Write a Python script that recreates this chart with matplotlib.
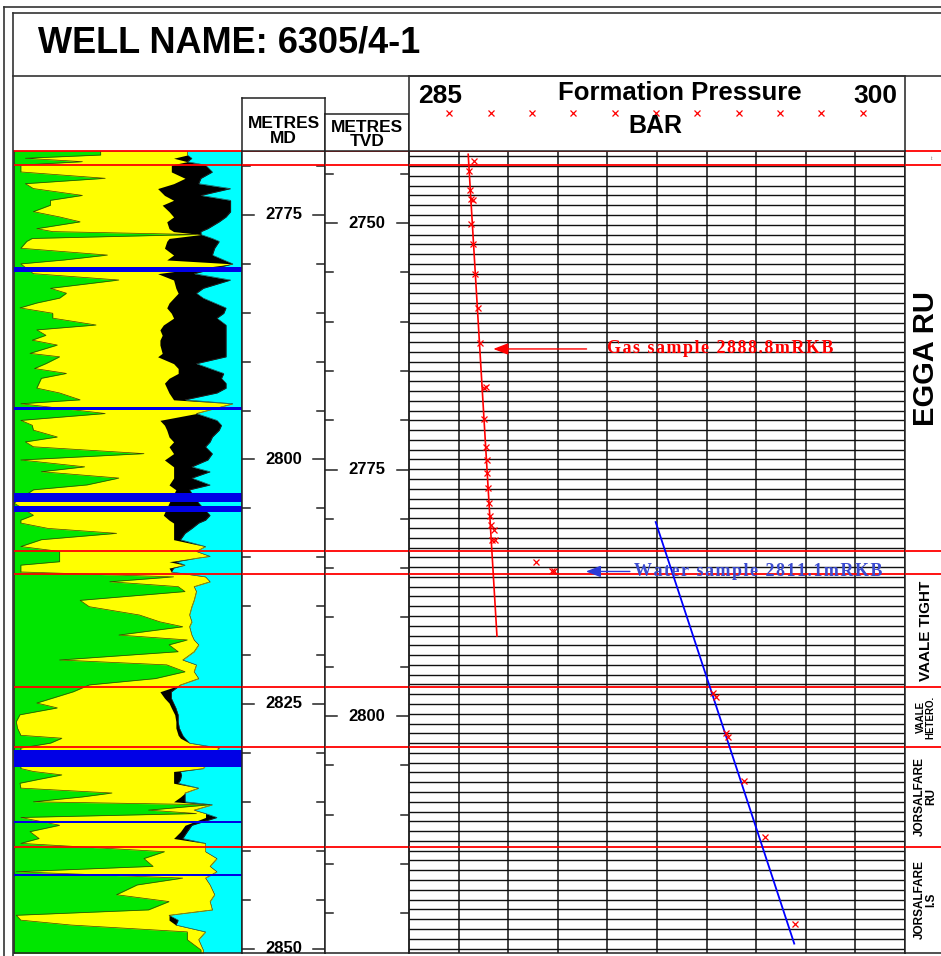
import matplotlib
matplotlib.use("Agg")
import matplotlib.pyplot as plt
import numpy as np
from matplotlib.lines import Line2D

plt.rcParams['font.family'] = ['Liberation Sans', 'DejaVu Sans']
SERIF = ['Liberation Serif', 'DejaVu Serif']

# ---- data read off the log ----
# lithology log: cumulative percentages (shale, +sand, +gas) at measured depth
log_md = [2768.46, 2768.87, 2769.2, 2769.55, 2769.9, 2770.6, 2771.25, 2771.8, 2772.3, 2773.0,
          2773.5, 2774.0, 2774.66, 2775.2, 2775.7, 2776.4, 2776.7, 2777.0, 2777.4, 2777.7,
          2778.4, 2779.1, 2779.6, 2780.0, 2781.0, 2781.65, 2782.5, 2783.0, 2783.5, 2784.0,
          2784.5, 2785.05, 2785.55, 2786.25, 2786.75, 2787.3, 2787.8, 2788.3, 2789.15, 2789.5,
          2790.2, 2790.7, 2791.2, 2791.7, 2792.2, 2792.7, 2793.2, 2793.9, 2794.3, 2795.3,
          2796.0, 2796.5, 2797.0, 2797.7, 2798.2, 2798.7, 2799.4, 2800.05, 2800.75, 2801.25,
          2801.9, 2802.6, 2803.1, 2804.45, 2805.7, 2806.2, 2806.5, 2807.05, 2807.55, 2808.2,
          2808.9, 2809.4, 2809.9, 2810.1, 2810.45, 2810.8, 2811.1, 2811.5, 2812.0, 2812.5,
          2813.0, 2813.5, 2814.4, 2815.05, 2815.9, 2816.6, 2817.1, 2817.95, 2818.45, 2818.95,
          2819.65, 2820.5, 2821.0, 2821.7, 2822.4, 2823.05, 2823.75, 2824.4, 2824.9, 2825.4,
          2826.1, 2826.8, 2827.45, 2828.2, 2828.5, 2829.0, 2829.5, 2831.6, 2831.9, 2832.25,
          2832.75, 2833.1, 2833.6, 2834.1, 2834.5, 2835.0, 2835.3, 2835.85, 2836.2, 2836.6,
          2837.4, 2838.05, 2838.75, 2839.25, 2840.1, 2840.8, 2841.6, 2842.15, 2842.8, 2843.5,
          2844.5, 2845.2, 2846.05, 2846.6, 2847.1, 2847.6, 2848.3, 2849.1, 2850.15, 2850.46]
shale = [38, 38, 5, 30, 3, 3, 40, 5, 8.5, 30,
         16, 16, 8.5, 20, 29, 10, 17, 80, 8, 5.6,
         3, 41, 22, 3, 8.5, 46, 16, 23, 20, 10,
         2.6, 17, 17, 36, 10, 14, 8, 19, 7, 20,
         14, 9, 23, 12, 11, 10, 20, 29, 3, 40,
         3, 8, 8.5, 19, 5, 8.5, 57, 3, 31, 12,
         46, 32, 8.5, 0, 8.5, 3, 3, 15, 45, 12,
         3, 20, 20, 20, 20, 3, 3, 3, 70, 42,
         72, 75, 29, 33, 55, 64, 74, 46, 76, 68,
         72, 20, 67, 75, 62, 33, 26, 17, 10, 19,
         2.6, 1, 1.5, 3, 21, 16, 3, 3, 8.5, 21,
         10, 2.6, 3, 43, 30, 8.5, 86, 59, 80, 3,
         20, 7, 11, 3, 66, 57, 61, 1, 74, 54,
         45, 68, 59, 1, 3, 25, 76, 76, 82, 82]
sand = [76, 76, 70, 76, 69, 69, 75, 70, 63, 66,
        70, 65, 68, 70, 67, 68, 70, 82, 68, 67,
        66, 70, 67, 96, 63, 70, 71, 72, 70, 68,
        67, 69, 70, 65.5, 64, 65, 64, 64, 65, 63,
        70, 72, 72, 68, 66, 67, 68, 70, 96, 80,
        64, 66, 67, 68, 70, 68, 70, 66, 70, 70,
        70, 68, 71, 68, 65.5, 68, 70, 70, 70, 70,
        84, 80, 86, 80, 68, 75, 68, 69, 84, 86,
        79, 80, 79, 78, 77, 78, 77, 78, 79, 81,
        79, 74, 80, 79, 81, 73, 64, 66, 68, 69,
        70.5, 71, 71, 72, 73, 77, 90, 83, 70, 70,
        70, 70, 81, 75, 73, 70, 87, 79, 84, 84,
        75, 73, 70, 84, 84, 89, 86, 89, 84, 86,
        88, 86, 87, 68, 68, 71, 84, 81, 83, 83]
gas = [76, 76, 78, 76, 84, 87, 82, 81, 95, 82,
       95, 95, 95, 93, 90, 85, 82, 82, 87, 90,
       88, 87, 92, 96, 79, 95, 83, 80, 83, 88,
       93, 92, 89, 93, 93, 93, 93, 93, 93, 93,
       80, 86, 92, 91, 93, 93, 89, 75, 96, 80,
       89, 91, 90, 87, 86, 84, 87, 85, 78, 86,
       78, 86, 77, 81, 86, 84, 81, 78, 75, 73,
       84, 80, 86, 80, 71, 75, 70, 69, 84, 86,
       79, 80, 79, 78, 77, 78, 77, 78, 79, 81,
       79, 74, 80, 79, 81, 73, 69, 69, 70, 71,
       72, 72, 72.5, 74, 75, 77, 90, 83, 73, 73.5,
       73, 72, 81, 75, 75, 75, 87, 79, 84, 89,
       78, 76, 74, 84, 84, 89, 86, 89, 84, 86,
       88, 86, 87, 68, 72, 71, 84, 81, 83, 83]
coal_top = [2780.3, 2794.6, 2803.45, 2804.8, 2829.7, 2836.95, 2842.4]
coal_base = [2780.8, 2794.95, 2804.3, 2805.4, 2831.45, 2837.2, 2842.6]

# formation tops and zone names
tops = [2769.9, 2809.4, 2811.75, 2823.3, 2829.4, 2839.6]
zone_names = ['EGGA RU', 'VAALE TIGHT', 'VAALE\nHETERO.', 'JORSALFARE\nRU', 'JORSALFARE\nI.S']
zone_top = [2769.9, 2811.75, 2823.3, 2829.4, 2839.6]
zone_base = [2809.4, 2823.3, 2829.4, 2839.6, 2850.46]
zone_size = [21, 11, 7, 8.5, 8.5]

# TVD reference
tvd_ref = [2750, 2775, 2800]
md_ref = [2775.8, 2801.1, 2826.2]

# pressure points (bar)
gas_md = [2769.45, 2770.47, 2772.44, 2773.4, 2773.5, 2775.9, 2778.0, 2781.0, 2784.5, 2788.05,
          2792.7, 2792.6, 2795.9, 2798.7, 2800.1, 2801.35, 2802.95, 2804.4, 2805.75, 2806.7,
          2807.2, 2808.25, 2808.2]
gas_p = [286.97, 286.81, 286.84, 286.87, 286.93, 286.87, 286.95, 287.0, 287.08, 287.16,
         287.27, 287.33, 287.28, 287.33, 287.37, 287.37, 287.39, 287.42, 287.45, 287.47,
         287.57, 287.5, 287.59]
mid_md = [2810.45, 2811.4, 2811.4]
mid_p = [288.85, 289.33, 289.38]
wat_md = [2823.9, 2824.3, 2828.0, 2828.4, 2832.9, 2838.55, 2847.5]
wat_p = [294.2, 294.28, 294.6, 294.65, 295.13, 295.77, 296.68]
gas_line_md = [2768.8, 2818.05]
gas_line_p = [286.79, 287.66]
wat_line_md = [2806.4, 2849.5]
wat_line_p = [292.46, 296.65]

top_md, base_md = 2768.46, 2850.46

# ---- figure ----
W, H = 941, 956
fig = plt.figure(figsize=(W / 100, H / 100), dpi=100)


def px_axes(x0, y0, x1, y1):
    ax = fig.add_axes([x0 / W, 1 - y1 / H, (x1 - x0) / W, (y1 - y0) / H])
    ax.set_xticks([])
    ax.set_yticks([])
    for s in ax.spines.values():
        s.set_linewidth(1.1)
        s.set_color('#222222')
    return ax


def px_line(x0, y0, x1, y1, lw=1.2, color='#333333'):
    fig.add_artist(Line2D([x0 / W, x1 / W], [1 - y0 / H, 1 - y1 / H],
                          transform=fig.transFigure, color=color, lw=lw))


def track(x0, x1):
    ax = px_axes(x0, 151, x1, 953)
    ax.set_ylim(base_md, top_md)
    ax.spines['top'].set_color('red')
    ax.spines['top'].set_linewidth(1.3)
    for t in tops:
        ax.axhline(t, color='red', lw=1.3, zorder=5)
    return ax


# frame
px_line(4, 7, 4, 956)
px_line(4, 7, 941, 7)
px_line(13, 13, 13, 956)
px_line(13, 13, 941, 13)
px_line(13, 76, 941, 76)
fig.text(38 / W, 1 - 43 / H, 'WELL NAME: 6305/4-1', fontsize=26, weight='bold', va='center')

# lithology track
ax_log = track(14, 242)
ax_log.set_xlim(0, 100)
ax_log.set_facecolor('#00ffff')
ax_log.fill_betweenx(log_md, 0, gas, color='black', lw=0)
ax_log.fill_betweenx(log_md, 0, sand, color='#ffff00', lw=0)
ax_log.fill_betweenx(log_md, 0, shale, color='#00e600', lw=0)
ax_log.plot(shale, log_md, color='#404000', lw=0.5)
ax_log.plot(gas, log_md, color='#303030', lw=0.4)
for t, b in zip(coal_top, coal_base):
    ax_log.axhspan(t, b, color='#0000e6', lw=0, zorder=3)

# MD track
ax_md = track(242, 325)
tr = ax_md.get_yaxis_transform()
for d in range(2770, 2851, 5):
    ln = 0.14 if d % 25 == 0 else 0.1
    ax_md.plot([0, ln], [d, d], transform=tr, color='#222222', lw=1.1)
    ax_md.plot([1 - ln, 1], [d, d], transform=tr, color='#222222', lw=1.1)
    if d % 25 == 0:
        ax_md.text(0.5, d, str(d), transform=tr, ha='center', va='center',
                   fontsize=12, weight='bold')

# TVD track
ax_tvd = track(325, 409)
k, c = np.polyfit(tvd_ref, md_ref, 1)
tr = ax_tvd.get_yaxis_transform()
for t in range(2745, 2825, 5):
    d = k * t + c
    ln = 0.14 if t % 25 == 0 else 0.1
    ax_tvd.plot([0, ln], [d, d], transform=tr, color='#222222', lw=1.1)
    ax_tvd.plot([1 - ln, 1], [d, d], transform=tr, color='#222222', lw=1.1)
    if t % 25 == 0:
        ax_tvd.text(0.5, d, str(t), transform=tr, ha='center', va='center',
                    fontsize=12, weight='bold')

# pressure track
ax_p = track(409, 905)
ax_p.set_xlim(285, 300)
for p in np.linspace(285, 300, 11):
    ax_p.axvline(p, color='#111111', lw=1.1, zorder=1)
for d in range(2769, 2851):
    ax_p.axhline(d, color='#111111', lw=1.0, zorder=1)
ax_p.plot(gas_line_p, gas_line_md, color='red', lw=1.2, zorder=6)
ax_p.plot(wat_line_p, wat_line_md, color='#0000ff', lw=1.3, zorder=6)
for pp, mm in [(gas_p, gas_md), (mid_p, mid_md), (wat_p, wat_md)]:
    ax_p.plot(pp, mm, 'x', color='red', ms=4.5, mew=0.9, zorder=7)

ax_p.annotate('', xy=(287.55, 2788.7), xytext=(290.37, 2788.7),
              arrowprops=dict(arrowstyle='-|>,head_length=0.9,head_width=0.35', color='red',
                              lw=1.0, mutation_scale=10, shrinkA=0, shrinkB=0), zorder=8)
ax_p.text(290.98, 2788.7, '\u200a'.join('Gas sample 2888.8mRKB'), color='red', fontsize=13,
          weight='bold', family=SERIF, va='center', ha='left', zorder=8)
ax_p.annotate('', xy=(290.35, 2811.45), xytext=(291.68, 2811.45),
              arrowprops=dict(arrowstyle='-|>,head_length=0.9,head_width=0.35', color='#2a3ad8',
                              lw=1.0, mutation_scale=10, shrinkA=0, shrinkB=0), zorder=8)
ax_p.text(291.8, 2811.45, '\u200a'.join('Water sample 2811.1mRKB'), color='#3b4bd0',
          fontsize=13, weight='bold', family=SERIF, va='center', ha='left', zorder=8)

# zone column
ax_z = track(905, 941)
ax_z.spines['right'].set_visible(False)
tr = ax_z.get_yaxis_transform()
for name, t, b, fs in zip(zone_names, zone_top, zone_base, zone_size):
    ax_z.text(0.57, (t + b) / 2, name, transform=tr, rotation=90, ha='center', va='center',
              fontsize=fs, weight='bold', linespacing=1.0)
ax_z.text(0.75, 2769.2, 'i:', transform=tr, fontsize=4, color='#888888', ha='center', va='center')

# headers
ax_hmd = px_axes(242, 98, 325, 151)
ax_hmd.text(0.5, 0.38, 'METRES\nMD', ha='center', va='center', fontsize=12.5,
            weight='bold', linespacing=0.95, transform=ax_hmd.transAxes)
ax_htvd = px_axes(325, 114, 409, 151)
ax_htvd.text(0.5, 0.45, 'METRES\nTVD', ha='center', va='center', fontsize=12.5,
             weight='bold', linespacing=0.95, transform=ax_htvd.transAxes)
ax_hp = px_axes(409, 76, 905, 151)
ax_hp.text(0.0625, 0.733, '285', ha='center', va='center', fontsize=19, weight='bold')
ax_hp.text(0.94, 0.733, '300', ha='center', va='center', fontsize=19, weight='bold')
ax_hp.text(0.546, 0.773, 'Formation Pressure', ha='center', va='center', fontsize=18.5, weight='bold')
ax_hp.text(0.496, 0.333, 'BAR', ha='center', va='center', fontsize=18, weight='bold')
ax_hp.plot(np.linspace(0.081, 0.915, 11), [0.507] * 11, 'x', color='red', ms=5, mew=0.9)
ax_hp.set_xlim(0, 1)
ax_hp.set_ylim(0, 1)

fig.savefig('out.png', dpi=100)
